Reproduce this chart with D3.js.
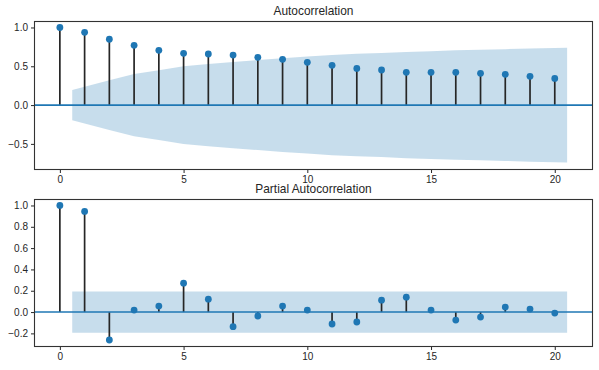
<!DOCTYPE html>
<html lang="en">
<head>
<meta charset="utf-8">
<title>ACF / PACF</title>
<script src="https://d3js.org/d3.v7.min.js"></script>
<style>
    body { margin: 0; background: #fff; }
    svg { display: block; font-family: "Liberation Sans", Arial, sans-serif; }
    .tick text { fill: #262626; font-size: 10px; }
    .tick line { stroke: #262626; }
    .domain { display: none; }
</style>
</head>
<body>
<script>
    // lags 0..20
    var lags = d3.range(0, 21);
    var acfValues = [1.0, 0.938, 0.848, 0.77, 0.706, 0.667, 0.658, 0.645, 0.615, 0.59,
        0.551, 0.512, 0.473, 0.452, 0.422, 0.422, 0.422, 0.409, 0.396, 0.37, 0.344];
    // upper edge of the confidence band for lags 1..20 (lower edge is its negative)
    var acfBand = [0.194, 0.32, 0.40, 0.45, 0.50, 0.53, 0.555, 0.58, 0.605, 0.625,
        0.645, 0.66, 0.67, 0.685, 0.695, 0.705, 0.712, 0.72, 0.73, 0.74];
    var pacfValues = [1.0, 0.944, -0.262, 0.019, 0.056, 0.271, 0.121, -0.137, -0.037, 0.056,
        0.019, -0.112, -0.093, 0.112, 0.14, 0.019, -0.075, -0.047, 0.047, 0.028, -0.009];
    var pacfBand = [0.194, 0.194, 0.194, 0.194, 0.194, 0.194, 0.194, 0.194, 0.194, 0.194,
        0.194, 0.194, 0.194, 0.194, 0.194, 0.194, 0.194, 0.194, 0.194, 0.194];
    var xTicks = [0, 5, 10, 15, 20];
    var acfTicks = [-0.5, 0.0, 0.5, 1.0];
    var pacfTicks = [-0.2, 0.0, 0.2, 0.4, 0.6, 0.8, 1.0];

    var W = 599, H = 370;
    var blue = "#1f77b4";

    var svg = d3.select("body").append("svg")
        .attr("width", W).attr("height", H);

    function panel(opts) {
        var x = d3.scaleLinear().domain([-1.025, 21.525]).range([34.5, 592.5]);
        var y = d3.scaleLinear().domain(opts.yDomain).range([opts.bottom, opts.top]);
        var g = svg.append("g");

        // confidence band, x positions shifted half a lag at the ends
        var bandX = opts.band.map(function (d, i) {
            var l = i + 1;
            if (i == 0) l -= 0.5;
            if (i == opts.band.length - 1) l += 0.5;
            return l;
        });
        var area = d3.area()
            .x(function (d, i) { return x(bandX[i]); })
            .y0(function (d) { return y(-d); })
            .y1(function (d) { return y(d); });
        g.append("path")
            .attr("d", area(opts.band))
            .attr("fill", blue)
            .attr("fill-opacity", 0.25);

        // stems
        g.selectAll(".stem").data(opts.values).enter()
            .append("line")
            .attr("x1", function (d, i) { return x(lags[i]); })
            .attr("x2", function (d, i) { return x(lags[i]); })
            .attr("y1", y(0))
            .attr("y2", function (d) { return y(d); })
            .attr("stroke", "#262626")
            .attr("stroke-width", 1.7);

        // zero line
        g.append("line")
            .attr("x1", x.range()[0]).attr("x2", x.range()[1])
            .attr("y1", y(0)).attr("y2", y(0))
            .attr("stroke", blue)
            .attr("stroke-width", 1.6);

        // markers
        g.selectAll(".pt").data(opts.values).enter()
            .append("circle")
            .attr("cx", function (d, i) { return x(lags[i]); })
            .attr("cy", function (d) { return y(d); })
            .attr("r", 3.4)
            .attr("fill", blue);

        // axes
        g.append("g")
            .attr("transform", "translate(0," + opts.bottom + ")")
            .call(d3.axisBottom(x).tickValues(xTicks).tickSize(3.5).tickPadding(3).tickFormat(d3.format("d")));
        g.append("g")
            .attr("transform", "translate(" + x.range()[0] + ",0)")
            .call(d3.axisLeft(y).tickValues(opts.yTicks).tickSize(3.5).tickPadding(3)
                .tickFormat(function (d) { return d3.format(".1f")(d).replace("-", "\u2212"); }));

        // frame
        g.append("rect")
            .attr("x", x.range()[0]).attr("y", opts.top)
            .attr("width", x.range()[1] - x.range()[0])
            .attr("height", opts.bottom - opts.top)
            .attr("fill", "none")
            .attr("stroke", "#333")
            .attr("stroke-width", 1.1);

        g.append("text")
            .attr("x", (x.range()[0] + x.range()[1]) / 2)
            .attr("y", opts.top - 6.5)
            .attr("text-anchor", "middle")
            .attr("fill", "#262626")
            .attr("font-size", "11.9px")
            .text(opts.title);
    }

    panel({ title: "Autocorrelation", values: acfValues, band: acfBand, yTicks: acfTicks,
        yDomain: [-0.83, 1.077], top: 21.5, bottom: 169.5 });
    panel({ title: "Partial Autocorrelation", values: pacfValues, band: pacfBand, yTicks: pacfTicks,
        yDomain: [-0.323, 1.056], top: 199.5, bottom: 346.5 });
</script>
</body>
</html>
